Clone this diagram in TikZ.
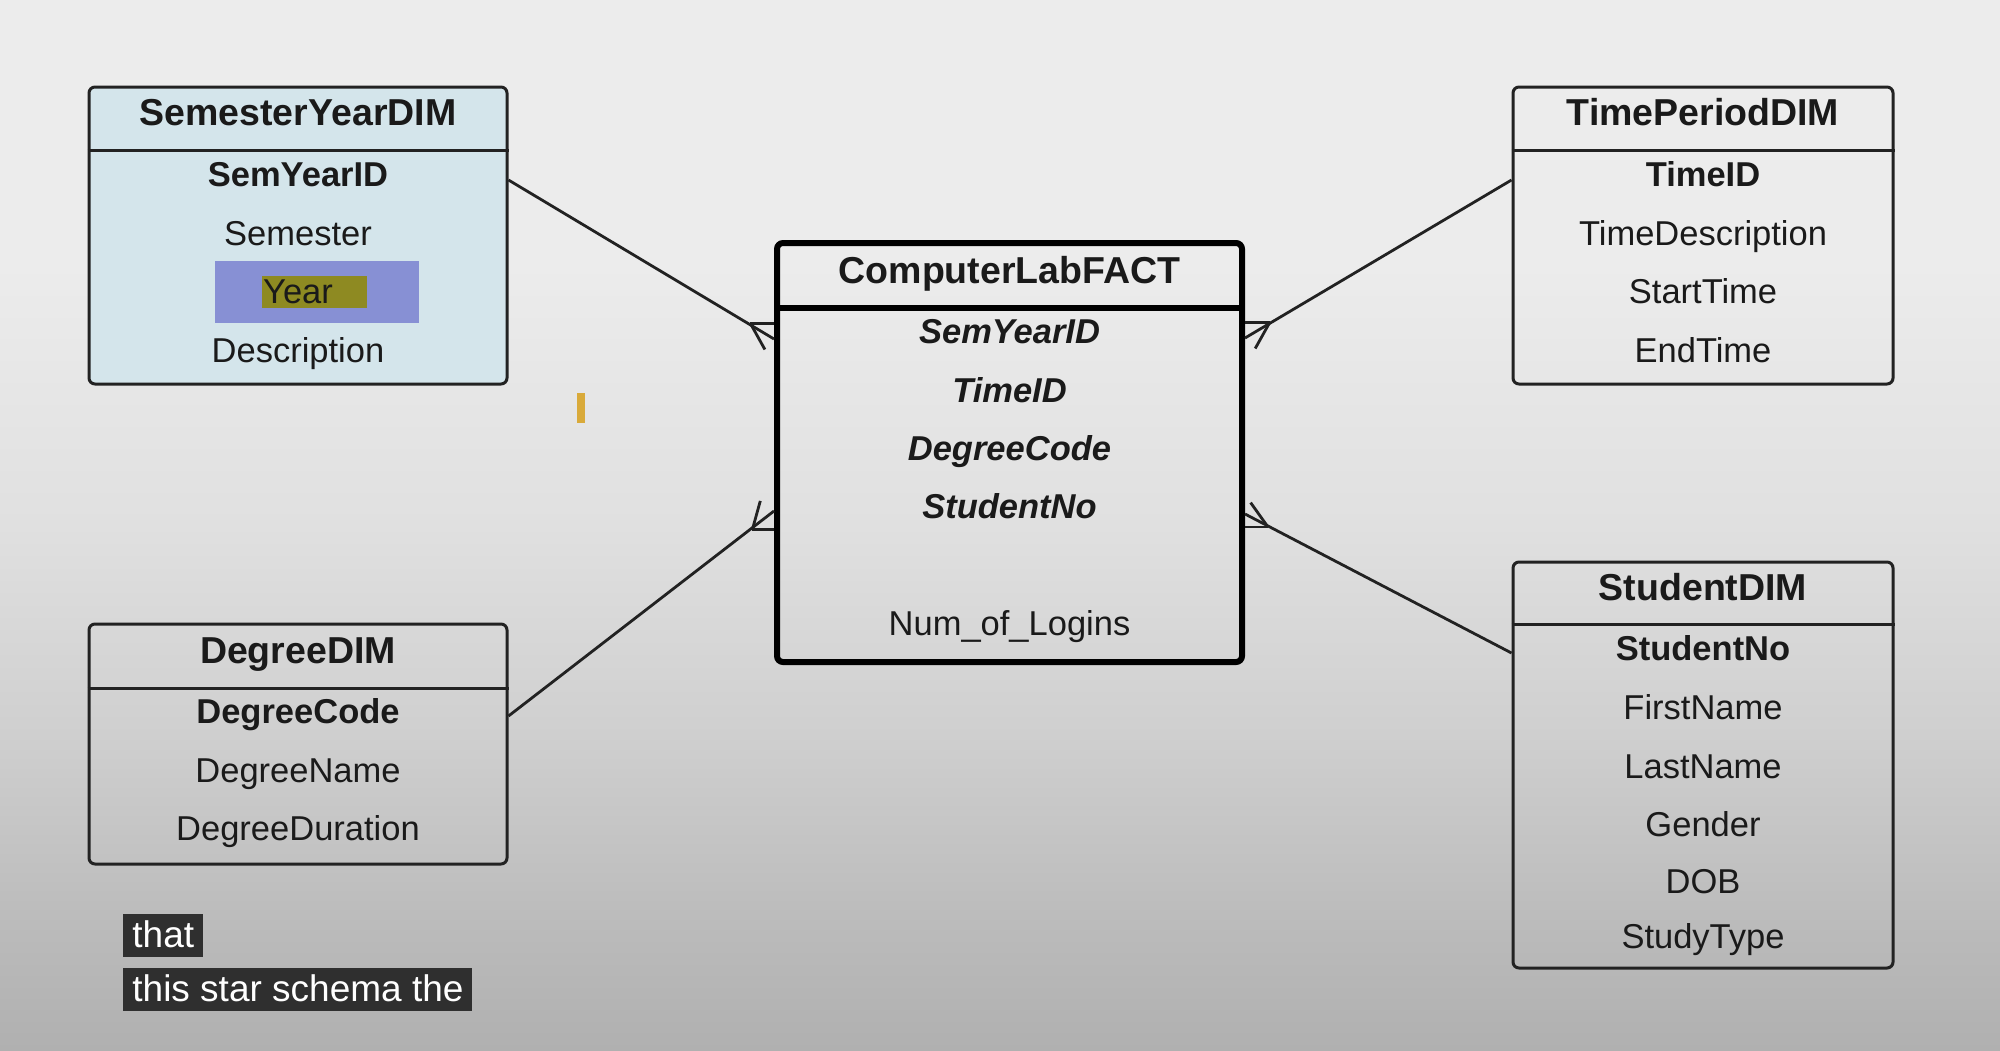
\documentclass[tikz,border=0pt]{standalone}
\usepackage{fontspec}
\setmainfont{Liberation Sans}
\usetikzlibrary{calc}
\definecolor{txt}{HTML}{1A1A1A}
\definecolor{linec}{HTML}{222222}
\definecolor{semfill}{HTML}{D4E5EB}
\definecolor{hlblue}{HTML}{8790D4}
\definecolor{hlyellow}{HTML}{8E8A22}
\definecolor{capbg}{HTML}{2F2F2F}
\definecolor{cursorc}{HTML}{D9AA3A}
\definecolor{bgtop}{HTML}{ECECEC}
\definecolor{bgmid}{HTML}{E0E0E0}
\definecolor{bglow}{HTML}{CFCFCF}
\definecolor{bglow2}{HTML}{BBBBBB}
\definecolor{bgbot}{HTML}{B0B0B0}
\pgfdeclareverticalshading{bgshade}{100bp}{color(0bp)=(bgbot); color(25bp)=(bgbot); color(31bp)=(bglow2); color(40bp)=(bglow); color(50bp)=(bgmid); color(62.5bp)=(bgtop); color(100bp)=(bgtop)}
\tikzset{
  tbl/.style={draw=linec, line width=1.5pt, rounded corners=3pt, inner sep=0pt},
  facttbl/.style={draw=black, line width=3pt, rounded corners=3pt, inner sep=0pt},
  sepline/.style={draw=linec, line width=1.5pt},
  factsep/.style={draw=black, line width=3pt},
  ttl/.style={anchor=base, inner sep=0pt, font=\bfseries\fontsize{18.75}{20}\selectfont, text=txt},
  keyattr/.style={anchor=base, inner sep=0pt, font=\bfseries\fontsize{17.25}{19}\selectfont, text=txt},
  attr/.style={anchor=base, inner sep=0pt, font=\fontsize{17.25}{19}\selectfont, text=txt},
  fkey/.style={anchor=base, inner sep=0pt, font=\bfseries\itshape\fontsize{17.25}{19}\selectfont, text=txt},
  conn/.style={draw=linec, line width=1.4pt},
  capbox/.style={anchor=base west, fill=capbg, text=white, inner xsep=4.5pt, inner ysep=0pt,
    text height=16.3pt, text depth=5.2pt, font=\fontsize{18.5}{20}\selectfont}
}
\begin{document}
\begin{tikzpicture}[x=0.5pt,y=-0.5pt]
\useasboundingbox (0,0) rectangle (2000,1050);
\shade[shading=bgshade] (0,0) rectangle (2000,1050);

% ---------- tables ----------
\node[tbl, fill=semfill, minimum width=209pt, minimum height=148.5pt] (sem) at (298,235.5) {};
\node[tbl, minimum width=190pt, minimum height=148.5pt] (time) at (1703,235.5) {};
\node[tbl, minimum width=209pt, minimum height=120pt] (deg) at (298,744) {};
\node[tbl, minimum width=190pt, minimum height=203pt] (stu) at (1703,765) {};
\node[facttbl, minimum width=232.5pt, minimum height=209.5pt] (fact) at (1009.5,452.5) {};

\draw[sepline] (sem.west |- 0,150) -- (sem.east |- 0,150);
\draw[sepline] (time.west |- 0,150) -- (time.east |- 0,150);
\draw[sepline] (deg.west |- 0,688) -- (deg.east |- 0,688);
\draw[sepline] (stu.west |- 0,624) -- (stu.east |- 0,624);
\draw[factsep] (fact.west |- 0,308) -- (fact.east |- 0,308);

% highlight on Year
\fill[hlblue] (215,261) rectangle (419,323);
\fill[hlyellow] (262,276) rectangle (367,308);

% ---------- SemesterYearDIM ----------
\node[ttl] (semT) at (298,125) {SemesterYearDIM};
\node[keyattr] (semK) at (298,186) {SemYearID};
\node[attr] (semA1) at (298,245) {Semester};
\node[attr] (semA2) at (298,303) {Year};
\node[attr] (semA3) at (298,362) {Description};

% ---------- TimePeriodDIM ----------
\node[ttl] (timeT) at (1703,125) {TimePeriodDIM};
\node[keyattr] (timeK) at (1703,186) {TimeID};
\node[attr] (timeA1) at (1703,245) {TimeDescription};
\node[attr] (timeA2) at (1703,303) {StartTime};
\node[attr] (timeA3) at (1703,362) {EndTime};

% ---------- DegreeDIM ----------
\node[ttl] (degT) at (298,663) {DegreeDIM};
\node[keyattr] (degK) at (298,723) {DegreeCode};
\node[attr] (degA1) at (298,782) {DegreeName};
\node[attr] (degA2) at (298,840) {DegreeDuration};

% ---------- StudentDIM ----------
\node[ttl] (stuT) at (1703,600) {StudentDIM};
\node[keyattr] (stuK) at (1703,660) {StudentNo};
\node[attr] (stuA1) at (1703,719) {FirstName};
\node[attr] (stuA2) at (1703,778) {LastName};
\node[attr] (stuA3) at (1703,836) {Gender};
\node[attr] (stuA4) at (1703,893) {DOB};
\node[attr] (stuA5) at (1703,948) {StudyType};

% ---------- ComputerLabFACT ----------
\node[ttl] (factT) at (1009.5,283) {ComputerLabFACT};
\node[fkey] (factK1) at (1009.5,343) {SemYearID};
\node[fkey] (factK2) at (1009.5,402) {TimeID};
\node[fkey] (factK3) at (1009.5,460) {DegreeCode};
\node[fkey] (factK4) at (1009.5,518) {StudentNo};
\node[attr] (factM) at (1009.5,635) {Num\_of\_Logins};

% ---------- connectors with crow's feet ----------
% SemesterYearDIM -> fact
\coordinate (semP) at (sem.east |- 0,180);
\coordinate (fE1) at (fact.west |- 0,339);
\coordinate (fS1) at (750.3,323.3);
\coordinate (fT1) at (764.9,349.5);
\draw[conn] (semP) -- (fE1);
\draw[conn] (fS1) -- (fS1 -| fact.west);
\draw[conn] (fS1) -- (fT1);

% TimePeriodDIM -> fact
\coordinate (timeP) at (time.west |- 0,180);
\coordinate (fE2) at (fact.east |- 0,338);
\coordinate (fS2) at (1269.8,322.3);
\coordinate (fT2) at (1255.2,348.5);
\draw[conn] (timeP) -- (fE2);
\draw[conn] (fS2) -- (fS2 -| fact.east);
\draw[conn] (fS2) -- (fT2);

% DegreeDIM -> fact
\coordinate (degP) at (deg.east |- 0,716);
\coordinate (fE3) at (fact.west |- 0,511);
\coordinate (fS3) at (752.3,529.8);
\coordinate (fT3) at (760.3,500.9);
\draw[conn] (degP) -- (fE3);
\draw[conn] (fS3) -- (fS3 -| fact.west);
\draw[conn] (fS3) -- (fT3);

% StudentDIM -> fact
\coordinate (stuP) at (stu.west |- 0,653);
\coordinate (fE4) at (fact.east |- 0,514);
\coordinate (fS4) at (1268,527);
\coordinate (fT4) at (1250.6,502.6);
\draw[conn] (stuP) -- (fE4);
\draw[conn] (fS4) -- (fS4 -| fact.east);
\draw[conn] (fS4) -- (fT4);

% cursor mark
\fill[cursorc] (577,393) rectangle (585,423);

% captions
\node[capbox] (cap1) at (123,947) {that};
\node[capbox] (cap2) at (123,1001) {this star schema the};
\end{tikzpicture}
\end{document}
